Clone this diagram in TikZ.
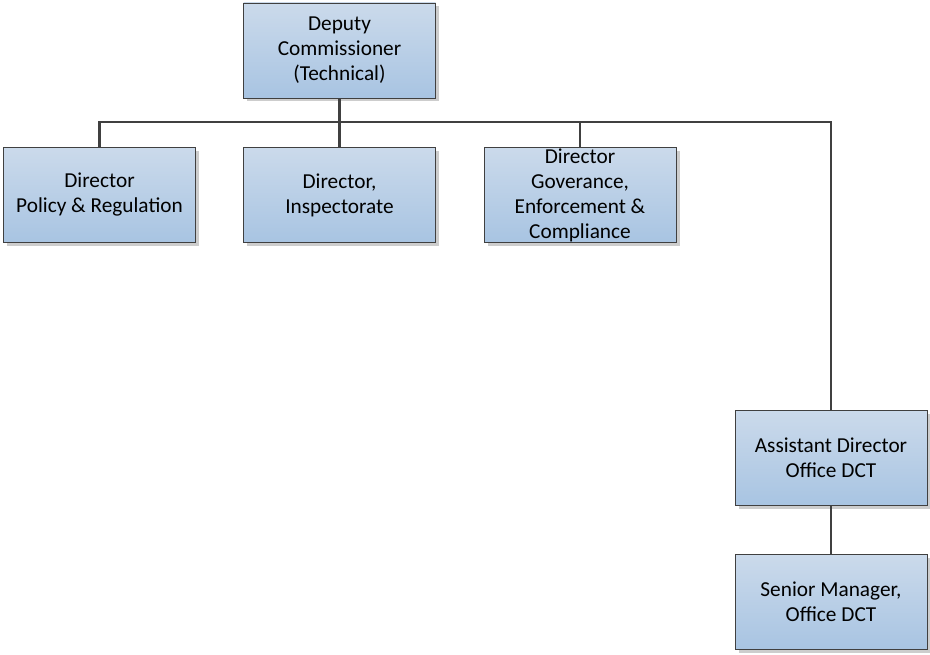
\documentclass[tikz,border=0pt]{standalone}
\usepackage{fontspec}
\setmainfont{Carlito}
\usetikzlibrary{shadows}
\definecolor{boxtop}{RGB}{203,218,235}
\definecolor{boxbot}{RGB}{168,196,226}
\definecolor{edge}{RGB}{64,64,64}
\definecolor{shadowgrey}{RGB}{205,205,205}
\tikzset{
  orgbox/.style={rectangle, draw=edge, line width=0.9pt, top color=boxtop, bottom color=boxbot,
    minimum width=192pt, minimum height=95pt, align=center, inner sep=0pt,
    font=\fontsize{21.3}{25}\selectfont,
    drop shadow={shadow xshift=3.5pt, shadow yshift=-3.5pt, fill=shadowgrey, opacity=1}},
  link/.style={draw=edge, line width=2.4pt}
}
\begin{document}
\begin{tikzpicture}[x=1pt,y=-1pt]
\useasboundingbox (0,0) rectangle (930,655);
\node[orgbox] (dc) at (339.5,50.5) {Deputy\\Commissioner\\(Technical)};
\node[orgbox] (d1) at (99.5,195) {Director\\Policy \& Regulation};
\node[orgbox] (d2) at (339.5,195) {Director,\\Inspectorate};
\node[orgbox] (d3) at (580,195) {Director\\Goverance,\\Enforcement \&\\Compliance};
\node[orgbox] (ad) at (831,458) {Assistant Director\\Office DCT};
\node[orgbox] (sm) at (831,602) {Senior Manager,\\Office DCT};
\coordinate (bus) at (339.5,122);
\draw[link] (dc.south) -- (bus);
\draw[link] (d1.north) |- (bus) -| (ad.north);
\draw[link] (d2.north) -- (d2.north |- bus);
\draw[link] (d3.north) -- (d3.north |- bus);
\draw[link] (ad.south) -- (sm.north);
\end{tikzpicture}
\end{document}
